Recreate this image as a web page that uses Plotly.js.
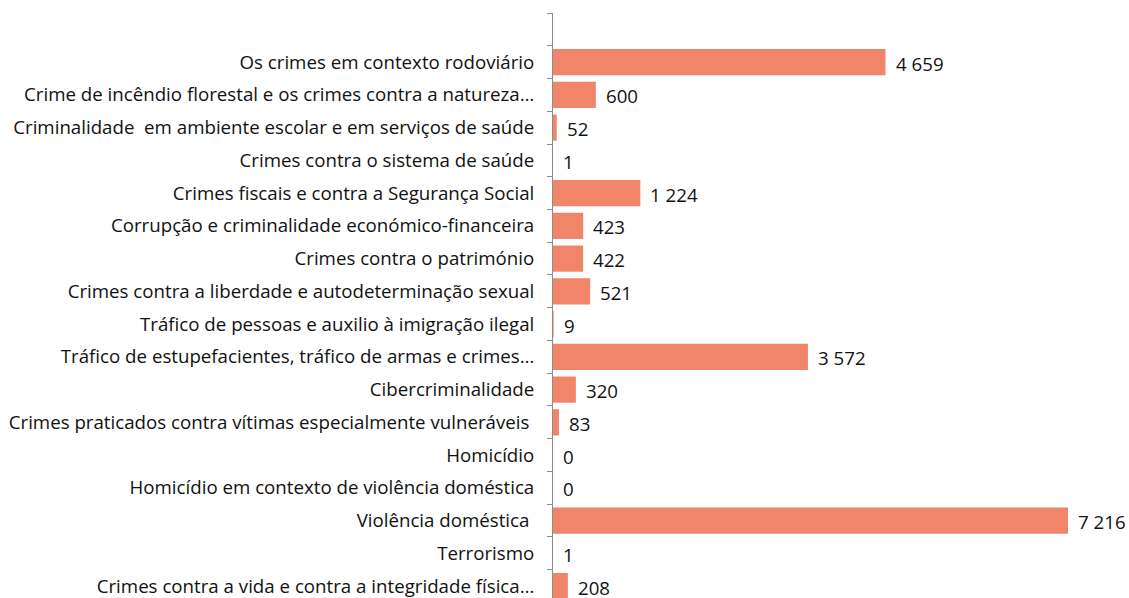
<!DOCTYPE html>
<html><head><meta charset="utf-8">
<script src="https://cdn.plot.ly/plotly-3.0.1.min.js"></script>
<style>html,body{margin:0;padding:0;overflow:hidden;background:#fff}</style>
</head><body><div id="chart" style="width:1129px;height:598px"></div>
<script>
// categories, top to bottom
const categories = [
  "Os crimes em contexto rodoviário",
  "Crime de incêndio florestal e os crimes contra a natureza…",
  "Criminalidade  em ambiente escolar e em serviços de saúde",
  "Crimes contra o sistema de saúde",
  "Crimes fiscais e contra a Segurança Social",
  "Corrupção e criminalidade económico-financeira",
  "Crimes contra o património",
  "Crimes contra a liberdade e autodeterminação sexual",
  "Tráfico de pessoas e auxilio à imigração ilegal",
  "Tráfico de estupefacientes, tráfico de armas e crimes…",
  "Cibercriminalidade",
  "Crimes praticados contra vítimas especialmente vulneráveis\u00a0",
  "Homicídio",
  "Homicídio em contexto de violência doméstica",
  "Violência doméstica\u00a0",
  "Terrorismo",
  "Crimes contra a vida e contra a integridade física…"
];
const values = [4659, 600, 52, 1, 1224, 423, 422, 521, 9, 3572, 320, 83, 0, 0, 7216, 1, 208];

function fmt(v){ return String(v).replace(/\B(?=(\d{3})+(?!\d))/g, " "); }

const order = [" "].concat(categories).reverse(); // bottom to top, blank slot on top

const trace = {
  type: "bar", orientation: "h",
  x: values, y: categories,
  marker: {color: "#F0856A"},
  hoverinfo: "none"
};

const annotations = values.map((v, i) => ({
  x: v, y: categories[i], xref: "x", yref: "y",
  text: fmt(v), showarrow: false, xanchor: "left", xshift: 8, yshift: -1,
  font: {family: "Open Sans", size: 18.7, color: "#111"}
}));

const layout = {
  width: 1129, height: 598,
  margin: {l: 553, r: 0, t: 13, b: 0, pad: 0},
  paper_bgcolor: "#fff", plot_bgcolor: "#fff",
  showlegend: false,
  bargap: 0.2,
  font: {family: "Open Sans", size: 18.7, color: "#111"},
  xaxis: {range: [0, 8071], visible: false, fixedrange: true},
  yaxis: {
    type: "category", categoryorder: "array", categoryarray: order,
    range: [-0.363, 17.5],
    showline: true, linecolor: "#8c8c8c", linewidth: 1,
    ticks: "outside", ticklen: 5, tickcolor: "#8c8c8c", tickson: "boundaries",
    showgrid: false, zeroline: false,
    ticklabelstandoff: 14,
    tickfont: {family: "Open Sans", size: 18.7, color: "#111"}
  },
  annotations: annotations
};

Plotly.newPlot("chart", [trace], layout, {displayModeBar: false, staticPlot: true});
</script></body></html>
